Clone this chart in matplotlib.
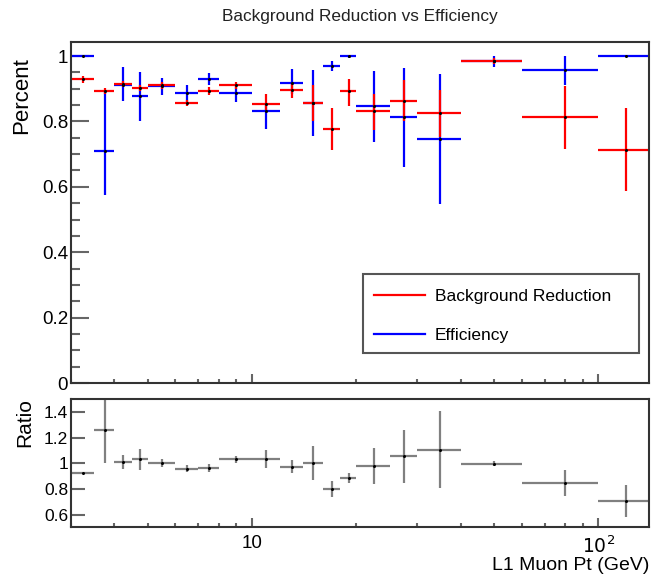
import matplotlib
matplotlib.use("Agg")
import matplotlib.pyplot as plt
from matplotlib.ticker import FixedLocator, NullFormatter, MultipleLocator, FuncFormatter
from matplotlib.lines import Line2D
from matplotlib.patches import Rectangle
import numpy as np

plt.rcParams['font.family'] = ['Liberation Sans', 'DejaVu Sans']

# bin edges in L1 muon pt (GeV)
edges = [3, 3.5, 4, 4.5, 5, 6, 7, 8, 10, 12, 14, 16, 18, 20, 25, 30, 40, 60, 100, 140]

# background reduction (red) value, upper, lower
bkg = [0.929, 0.894, 0.914, 0.902, 0.910, 0.857, 0.894, 0.910, 0.854, 0.895,
       0.857, 0.778, 0.892, 0.831, 0.864, 0.827, 0.985, 0.813, 0.713]
bkg_hi = [0.939, 0.903, 0.924, 0.912, 0.920, 0.867, 0.906, 0.920, 0.883, 0.917,
          0.912, 0.841, 0.931, 0.883, 0.928, 0.895, 0.993, 0.908, 0.841]
bkg_lo = [0.919, 0.885, 0.904, 0.892, 0.900, 0.847, 0.882, 0.900, 0.834, 0.873,
          0.800, 0.713, 0.846, 0.775, 0.800, 0.752, 0.977, 0.716, 0.587]

# efficiency (blue)
eff = [1.0, 0.709, 0.913, 0.877, 0.907, 0.887, 0.929, 0.887, 0.831, 0.917,
       0.857, 0.971, 0.999, 0.846, 0.815, 0.747, 0.985, 0.958, 1.0]
eff_hi = [1.0, 0.895, 0.967, 0.951, 0.934, 0.912, 0.949, 0.910, 0.854, 0.961,
          0.958, 0.985, 1.0, 0.954, 0.965, 0.946, 1.0, 1.0, 1.0]
eff_lo = [0.997, 0.574, 0.864, 0.800, 0.880, 0.859, 0.910, 0.861, 0.778, 0.885,
          0.754, 0.953, 0.993, 0.737, 0.662, 0.548, 0.966, 0.913, 0.997]

# ratio bkg/eff
ratio = [0.925, 1.262, 1.010, 1.030, 1.003, 0.959, 0.962, 1.030, 1.030, 0.972,
         1.003, 0.800, 0.887, 0.980, 1.056, 1.105, 0.997, 0.849, 0.710]
ratio_err = [0.01, 0.26, 0.055, 0.083, 0.03, 0.03, 0.03, 0.03, 0.07, 0.05,
             0.131, 0.064, 0.04, 0.139, 0.206, 0.30, 0.02, 0.10, 0.125]

edges = np.array(edges)
xc = 0.5 * (edges[:-1] + edges[1:])
xerr = [xc - edges[:-1], edges[1:] - xc]

RED = '#ff0000'
BLUE = '#0000ff'
AXC = '#333333'
TICKC = '#666666'

fig = plt.figure(figsize=(6.52, 5.8), dpi=100)
ax = fig.add_axes([71/652, 1-383/580, 578/652, 341/580])
axr = fig.add_axes([71/652, 1-527/580, 578/652, 128/580])

def errs(v, hi, lo):
    v = np.array(v)
    return [v - np.array(lo), np.array(hi) - v]

ax.errorbar(xc, eff, yerr=errs(eff, eff_hi, eff_lo), xerr=xerr, fmt='o', ms=1.2,
            mfc='black', mec='black', ecolor=BLUE, elinewidth=1.6, capsize=0)
ax.errorbar(xc, bkg, yerr=errs(bkg, bkg_hi, bkg_lo), xerr=xerr, fmt='o', ms=1.2,
            mfc='black', mec='black', ecolor=RED, elinewidth=1.6, capsize=0)

axr.errorbar(xc, ratio, yerr=ratio_err, xerr=xerr, fmt='o', ms=1.2,
             mfc='black', mec='black', ecolor='#808080', elinewidth=1.6, capsize=0)

for a in (ax, axr):
    a.set_xscale('log')
    a.set_xlim(3, 140)
    for s in a.spines.values():
        s.set_color(AXC)
        s.set_linewidth(1.5)
    a.xaxis.set_major_locator(FixedLocator([10, 100]))
    a.xaxis.set_minor_locator(FixedLocator([3, 4, 5, 6, 7, 8, 9, 20, 30, 40, 50, 60, 70, 80, 90]))
    a.xaxis.set_minor_formatter(NullFormatter())
    a.tick_params(axis='x', which='major', direction='in', length=6.5, width=1.5,
                  color=TICKC, top=False, bottom=True)
    a.tick_params(axis='x', which='minor', direction='in', length=3, width=1.5,
                  color=TICKC, top=False, bottom=True)

ax.xaxis.set_major_formatter(NullFormatter())
axr.xaxis.set_major_formatter(FuncFormatter(lambda v, p: '10' if v == 10 else r'$10^{2}$'))
axr.tick_params(axis='x', which='major', labelsize=13.5, pad=6)

ax.set_ylim(0, 1.043)
ax.yaxis.set_major_locator(MultipleLocator(0.2))
ax.yaxis.set_minor_locator(MultipleLocator(0.05))
ax.yaxis.set_major_formatter(FuncFormatter(lambda v, p: ('%g' % round(v, 2))))
ax.tick_params(axis='y', which='major', direction='in', length=13, width=1.5,
               color=TICKC, labelsize=13.5, right=False, pad=2)
ax.tick_params(axis='y', which='minor', direction='in', length=6.5, width=1.5,
               color=TICKC, right=False)

axr.set_ylim(0.505, 1.5)
axr.set_yticks([0.6, 0.8, 1.0, 1.2, 1.4])
axr.yaxis.set_major_formatter(FuncFormatter(lambda v, p: ('%g' % round(v, 2))))
axr.tick_params(axis='y', which='major', direction='in', length=10, width=1.5,
                color=TICKC, labelsize=12.5, right=False, pad=2)

fig.text(22/652, 1 - 57/580, 'Percent', rotation=90, fontsize=16,
         ha='center', va='top')
fig.text(25/652, 1 - 398/580, 'Ratio', rotation=90, fontsize=15,
         ha='center', va='top')
axr.set_xlabel('L1 Muon Pt (GeV)', fontsize=14, loc='right', labelpad=0)

fig.text(360/652, 1 - 17/580, 'Background Reduction vs Efficiency', fontsize=12.4,
         ha='center', va='center', color='#222222')

# legend box drawn by hand, entries through ax.legend
ax.add_patch(Rectangle((363/652, 1 - 353/580), 276/652, 79/580,
                       transform=fig.transFigure, fill=True, facecolor='white',
                       edgecolor='#555555', linewidth=1.5, zorder=4, clip_on=False))
handles = [Line2D([], [], color=RED, lw=1.6),
           Line2D([], [], color=BLUE, lw=1.6)]
leg = ax.legend(handles, ['Background Reduction', 'Efficiency'],
                loc='upper left', bbox_to_anchor=(369/652, 1 - 284/580),
                bbox_transform=fig.transFigure, fontsize=12.5, frameon=False,
                handlelength=2.9, labelspacing=1.35, borderpad=0.3,
                handletextpad=0.6, borderaxespad=0)
leg.set_zorder(5)

fig.savefig('out.png', dpi=100)
